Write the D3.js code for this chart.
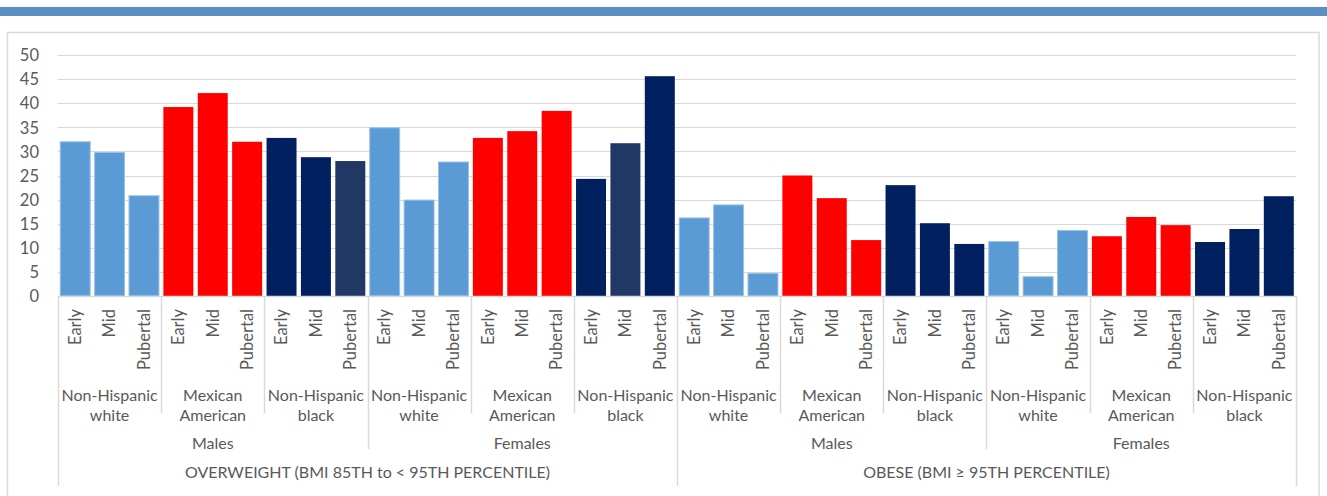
<!DOCTYPE html>
<html>
<head>
<meta charset="utf-8">
<script src="https://cdn.jsdelivr.net/npm/d3@7"></script>
<style>
  html, body { margin: 0; padding: 0; background: #fff; }
  svg { display: block; }
  text { font-family: Lato, "Open Sans", sans-serif; fill: #595959; }
</style>
</head>
<body>
<svg id="chart" width="1327" height="496"></svg>
<script>
// Prevalence (%) by pubertal stage, ethnicity, sex and weight status
const stages = ["Early", "Mid", "Pubertal"];
const ethnicities = [["Non-Hispanic", "white"], ["Mexican", "American"], ["Non-Hispanic", "black"]];
const sexes = ["Males", "Females"];
const measures = ["OVERWEIGHT (BMI 85TH to < 95TH PERCENTILE)", "OBESE (BMI \u2265 95TH PERCENTILE)"];
const yTicks = [0, 5, 10, 15, 20, 25, 30, 35, 40, 45, 50];

const overweightMales   = [32.0, 29.8, 20.8, 39.2, 42.1, 32.0, 32.8, 28.8, 28.0];
const overweightFemales = [34.9, 19.9, 27.8, 32.8, 34.2, 38.4, 24.3, 31.7, 45.6];
const obeseMales        = [16.2, 18.9, 4.7, 25.0, 20.3, 11.6, 23.0, 15.1, 10.8];
const obeseFemales      = [11.3, 4.0, 13.6, 12.4, 16.4, 14.7, 11.2, 13.9, 20.7];

// bars drawn in the slate navy shade instead of the standard navy
const slateBars = ["0-0-2-2", "0-1-2-1"];

const seriesByMeasure = [[overweightMales, overweightFemales], [obeseMales, obeseFemales]];
const rows = [];
seriesByMeasure.forEach((pair, m) => pair.forEach((vals, s) => vals.forEach((v, k) => {
  const e = Math.floor(k / 3), st = k % 3;
  rows.push({ m, s, e, st, value: v, key: `${m}-${s}-${e}-${st}` });
})));

const ethColors = ["#5b9bd5", "#ff0000", "#002060"];
const slateColor = "#213864";
const labelSize = 16;

const svg = d3.select("#chart");
const plot = { left: 58, right: 1296, top: 55, bottom: 296 };

// header stripe and frame
svg.append("rect").attr("x", 0).attr("y", 7).attr("width", 1327).attr("height", 9).attr("fill", "#5a8fc3");
svg.append("rect").attr("x", 7.5).attr("y", 32.5).attr("width", 1311.5).attr("height", 480)
  .attr("fill", "none").attr("stroke", "#d9d9d9").attr("stroke-width", 1.5);

const x = d3.scaleBand().domain(d3.range(rows.length))
  .range([plot.left, plot.right]).paddingInner(0.128).paddingOuter(0.064);
const y = d3.scaleLinear().domain([0, 50]).range([plot.bottom, plot.top]);

// gridlines
svg.append("g").selectAll("line").data(yTicks.filter(t => t > 0)).join("line")
  .attr("x1", plot.left).attr("x2", plot.right)
  .attr("y1", d => Math.round(y(d)) + 0.5).attr("y2", d => Math.round(y(d)) + 0.5)
  .attr("stroke", "#d9d9d9").attr("stroke-width", 1.2);

// y axis labels
const yAxis = d3.axisLeft(y).tickValues(yTicks).tickSize(0).tickPadding(0);
const yg = svg.append("g").attr("transform", "translate(39,0)").call(yAxis);
yg.select(".domain").remove();
yg.selectAll("text").attr("font-size", 16.5).attr("fill", "#595959")
  .style("font-family", "Lato, 'Open Sans', sans-serif").attr("dy", "0.35em");

// bars
svg.append("g").selectAll("rect").data(rows).join("rect")
  .attr("x", (d, i) => x(i))
  .attr("width", x.bandwidth())
  .attr("y", d => y(d.value))
  .attr("height", d => y(0) - y(d.value))
  .attr("fill", d => slateBars.includes(d.key) ? slateColor : ethColors[d.e])
  .attr("stroke", d => d.e === 0 ? "#9cc2e5" : "none")
  .attr("stroke-width", d => d.e === 0 ? 1 : 0);

// category axis baseline
svg.append("line").attr("x1", plot.left).attr("x2", plot.right)
  .attr("y1", plot.bottom + 0.5).attr("y2", plot.bottom + 0.5)
  .attr("stroke", "#d9d9d9").attr("stroke-width", 1.5);

const half = (x.step() - x.bandwidth()) / 2;
const edge = i => i >= rows.length ? x(rows.length - 1) + x.bandwidth() + half : x(i) - half;

// hierarchical separators
const seps = d3.range(0, rows.length + 1, 3).map(i => ({
  x: edge(i),
  y2: i % 18 === 0 ? 486 : (i % 9 === 0 ? 449 : 413)
}));
svg.append("g").selectAll("line").data(seps).join("line")
  .attr("x1", d => Math.round(d.x) + 0.5).attr("x2", d => Math.round(d.x) + 0.5)
  .attr("y1", plot.bottom).attr("y2", d => d.y2)
  .attr("stroke", "#d9d9d9").attr("stroke-width", 1.5);

// stage labels (rotated)
svg.append("g").selectAll("text").data(rows).join("text")
  .attr("transform", (d, i) => `translate(${x(i) + x.bandwidth() / 2},309) rotate(-90)`)
  .attr("text-anchor", "end").attr("dy", "0.35em")
  .attr("font-size", 16.5)
  .text(d => stages[d.st]);

// ethnicity labels
const ethGroups = d3.range(0, rows.length, 3).map(i => ({ i, lines: ethnicities[rows[i].e] }));
const eg = svg.append("g").selectAll("text").data(ethGroups).join("text")
  .attr("text-anchor", "middle").attr("font-size", labelSize);
eg.selectAll("tspan").data(d => d.lines.map((t, j) => ({ t, j, cx: (edge(d.i) + edge(d.i + 3)) / 2 })))
  .join("tspan")
  .attr("x", d => d.cx).attr("y", d => d.j === 0 ? 401 : 420.5)
  .text(d => d.t);

// sex labels
const sexGroups = d3.range(0, rows.length, 9).map(i => ({ i, label: sexes[rows[i].s] }));
svg.append("g").selectAll("text").data(sexGroups).join("text")
  .attr("x", d => (edge(d.i) + edge(d.i + 9)) / 2).attr("y", 449)
  .attr("text-anchor", "middle").attr("font-size", labelSize)
  .text(d => d.label);

// weight status labels
const measureGroups = d3.range(0, rows.length, 18).map(i => ({ i, label: measures[rows[i].m] }));
svg.append("g").selectAll("text").data(measureGroups).join("text")
  .attr("x", d => (edge(d.i) + edge(d.i + 18)) / 2).attr("y", 478)
  .attr("text-anchor", "middle").attr("font-size", labelSize)
  .text(d => d.label);
</script>
</body>
</html>
